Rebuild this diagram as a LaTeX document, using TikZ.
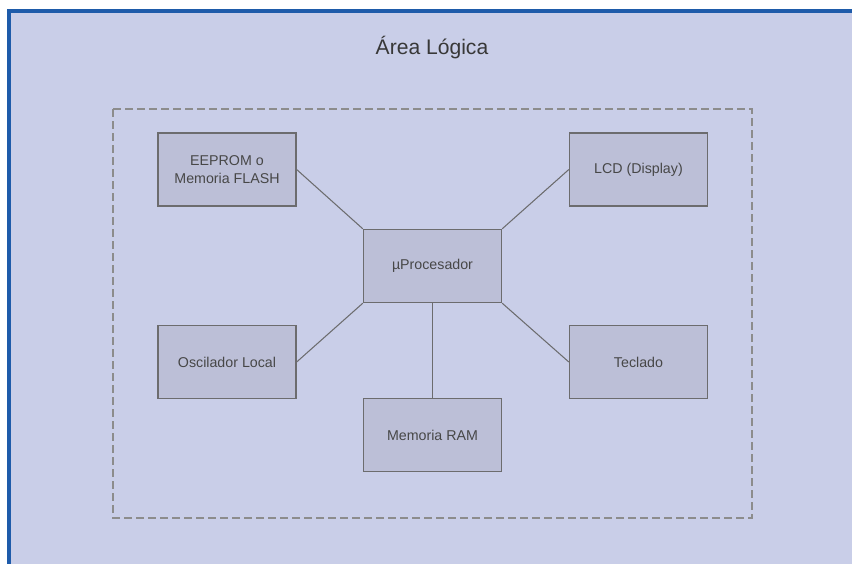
\documentclass[tikz,border=0pt]{standalone}
\usepackage{fontspec}
\setmainfont{Liberation Sans}
\usepackage{tikz}
\usetikzlibrary{positioning}
\definecolor{area-bg}{HTML}{C9CEE8}
\definecolor{area-frame}{HTML}{1E5BAA}
\definecolor{block-fill}{HTML}{BCBFD7}
\definecolor{block-line}{HTML}{6C6C6E}
\tikzset{
  logic-block/.style={draw=block-line, fill=block-fill, line width=0.75pt,
    minimum width=27.6mm, minimum height=14.6mm, align=center,
    font=\fontsize{8.1}{10}\selectfont, text=black!72, inner sep=2pt},
  logic-boundary/.style={draw=black!45, line width=1pt, dash pattern=on 1.5mm off 0.9mm},
  logic-link/.style={draw=block-line, line width=0.6pt}
}

\begin{document}
\begin{tikzpicture}[x=0.2mm, y=-0.2mm]
  \useasboundingbox (0,0) rectangle (852,563);
  \clip (0,0) rectangle (852,563);
  % Background panel
  \fill[white] (0,0) rectangle (852,563);
  \draw[area-frame, fill=area-bg, line width=2pt] (9,10.8) rectangle (880,600);
  % Title
  \node[font=\fontsize{12}{14}\selectfont, text=black!78] (title) at (432,48) {Área Lógica};
  % Dashed boundary
  \draw[logic-boundary] (113,109) rectangle (752,518);

  % --- Blocks ---
  \node[logic-block] (proc) at (432.5,266) {µProcesador};
  \node[logic-block] (eeprom) at (227,169.5) {EEPROM o\\Memoria FLASH};
  \node[logic-block] (lcd) at (638.5,169.5) {LCD (Display)};
  \node[logic-block] (osc) at (227,362) {Oscilador Local};
  \node[logic-block] (tec) at (638.5,362) {Teclado};
  \node[logic-block] (ram) at (432.5,435) {Memoria RAM};

  % --- Links ---
  \draw[logic-link] (eeprom.east) -- (proc.north west);
  \draw[logic-link] (lcd.west) -- (proc.north east);
  \draw[logic-link] (osc.east) -- (proc.south west);
  \draw[logic-link] (tec.west) -- (proc.south east);
  \draw[logic-link] (proc.south) -- (ram.north);
\end{tikzpicture}
\end{document}
